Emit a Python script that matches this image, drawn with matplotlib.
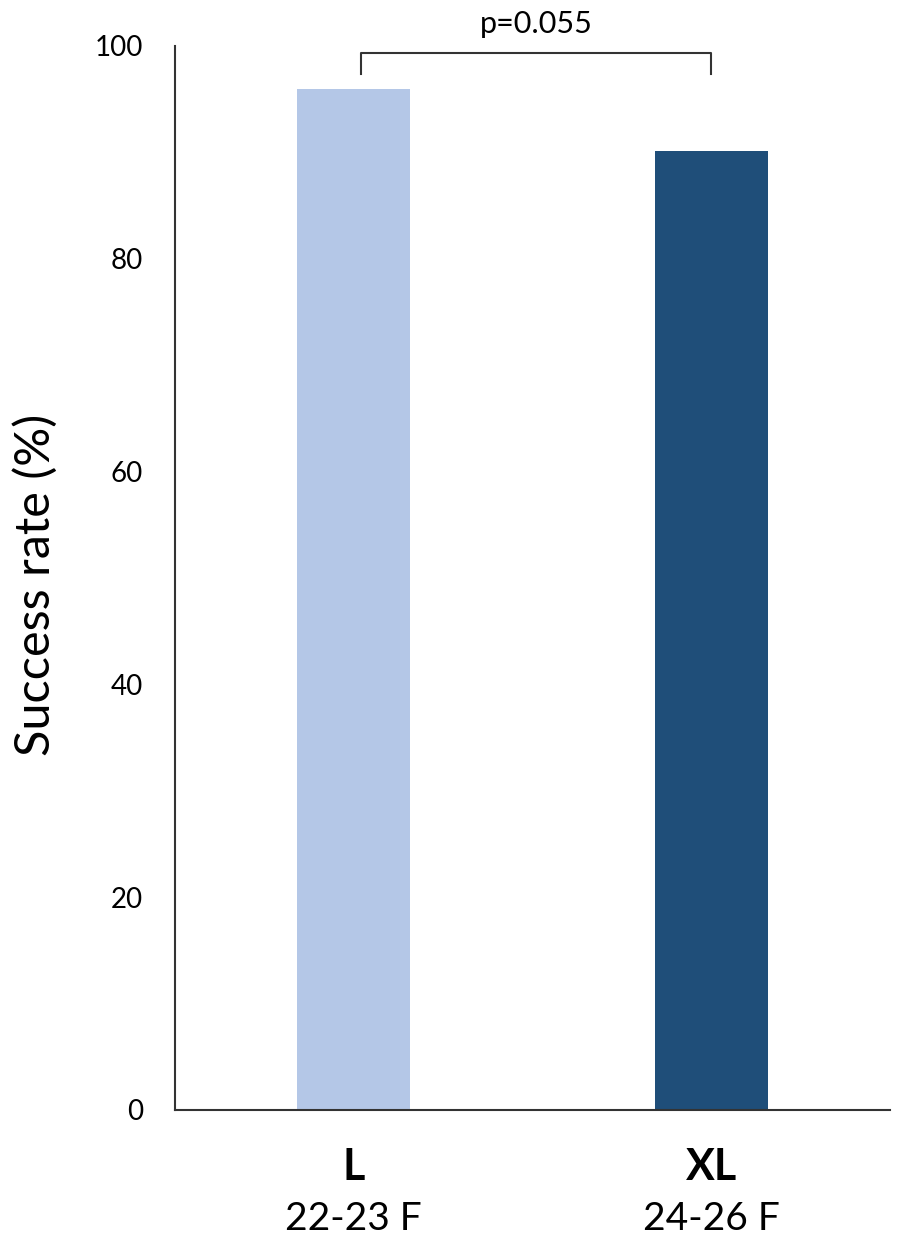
import matplotlib
matplotlib.use("Agg")
import matplotlib.pyplot as plt

categories = ["L", "XL"]
sublabels = ["22-23 F", "24-26 F"]
values = [96.0, 90.1]
colors = ["#b4c7e7", "#1f4e79"]
yticks = [0, 20, 40, 60, 80, 100]
p_text = "p=0.055"

plt.rcParams['font.family'] = ['Lato', 'DejaVu Sans']

fig = plt.figure(figsize=(8.99, 12.43), dpi=100)
ax = fig.add_axes([175/899, 1 - 1110/1243, (890-175)/899, (1110-46)/1243])

x = list(range(len(categories)))
ax.bar(x, values, width=0.315, color=colors)
ax.set_xlim(-0.5, 1.5)
ax.set_ylim(0, 100)
ax.set_yticks(yticks)
ax.set_yticklabels([str(t) for t in yticks], fontsize=20)
ax.tick_params(axis='y', length=0, pad=23)
ax.set_xticks([])
for s in ['top', 'right']:
    ax.spines[s].set_visible(False)
for s in ['left', 'bottom']:
    ax.spines[s].set_color('#333333')
    ax.spines[s].set_linewidth(1.5)
fig.text(35/899, 1 - 585/1243, "Success rate (%)", rotation=90, ha='center', va='center', fontsize=35)

# bracket
ax.plot([0.02, 0.02, 1.0, 1.0], [97.4, 99.3, 99.3, 97.4], color='#333333', lw=1.5, clip_on=False)
ax.text(0.51, 102.1, p_text, ha='center', va='center', fontsize=22, clip_on=False)

for xi, c, sl in zip(x, categories, sublabels):
    ax.text(xi, -5.4, c, ha='center', va='center', fontsize=31, fontweight='bold', clip_on=False)
    ax.text(xi, -10.2, sl, ha='center', va='center', fontsize=28, clip_on=False)

fig.savefig("out.png", dpi=100)
